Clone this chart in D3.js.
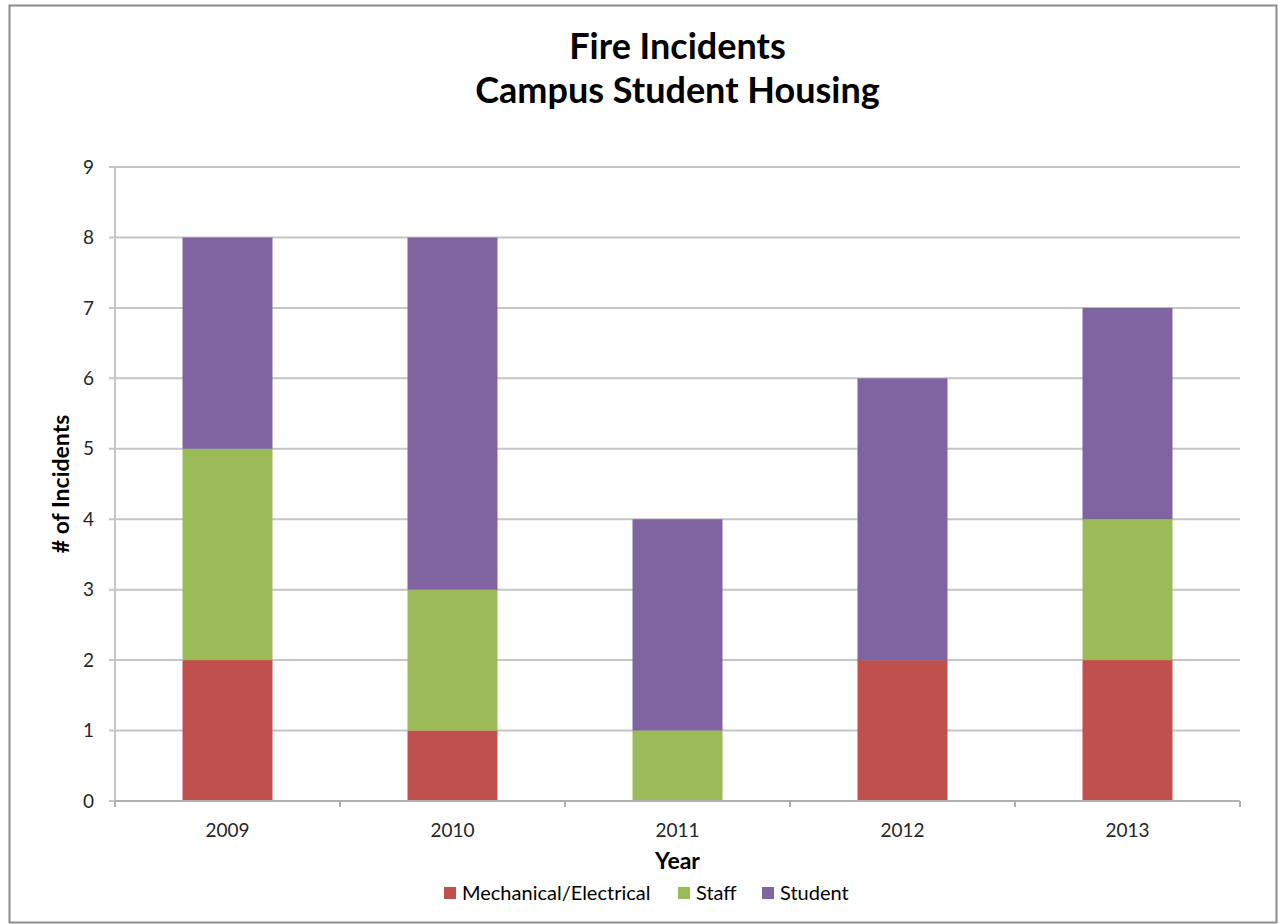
<!DOCTYPE html>
<html><head><meta charset="utf-8">
<script src="https://cdn.jsdelivr.net/npm/d3@7"></script>
<style>body{margin:0;background:#fff;} svg{display:block;}</style>
</head><body>
<svg id="c" width="1278" height="924"></svg>
<script>
const years = ["2009","2010","2011","2012","2013"];
const seriesNames = ["Mechanical/Electrical","Staff","Student"];
const mechanical = [2,1,0,2,2];
const staff = [3,2,1,0,2];
const student = [3,5,3,4,3];
const yTicks = [0,1,2,3,4,5,6,7,8,9];
const colors = ["#C0504D","#9BBB59","#8064A2"];
const titleLines = ["Fire Incidents","Campus Student Housing"];

const font = "Lato, 'Open Sans', sans-serif";
const svg = d3.select("#c");
svg.append("rect").attr("x",9.5).attr("y",5.5).attr("width",1267).attr("height",917)
  .attr("fill","#fff").attr("stroke","#8c8c8c").attr("stroke-width",2);

const L=115, R=1240, T=167, B=801;
const x = d3.scaleBand().domain(years).range([L,R]).paddingInner(0.6).paddingOuter(0.3);
const xb = d3.scaleBand().domain(years).range([L,R]);
const y = d3.scaleLinear().domain([0,9]).range([B,T]);

// gridlines
svg.append("g").selectAll("line").data(yTicks).join("line")
  .attr("x1",L-6).attr("x2",R).attr("y1",d=>y(d)).attr("y2",d=>y(d))
  .attr("stroke","#c6c6c6").attr("stroke-width",2);

// y axis line
svg.append("line").attr("x1",L).attr("x2",L).attr("y1",T).attr("y2",B).attr("stroke","#c6c6c6").attr("stroke-width",2);

// stacked bars
const rows = years.map((yr,i)=>({year:yr, "Mechanical/Electrical":mechanical[i], "Staff":staff[i], "Student":student[i]}));
const stack = d3.stack().keys(seriesNames)(rows);
svg.append("g").selectAll("g").data(stack).join("g").attr("fill",(d,i)=>colors[i])
  .selectAll("rect").data(d=>d).join("rect")
  .attr("x",d=>x(d.data.year)).attr("width",x.bandwidth())
  .attr("y",d=>y(d[1])).attr("height",d=>y(d[0])-y(d[1]));

// x axis
svg.append("line").attr("x1",L).attr("x2",R).attr("y1",B).attr("y2",B).attr("stroke","#b0b0b0").attr("stroke-width",2);
const bounds = years.map(d=>xb(d)).concat([R]);
svg.append("g").selectAll("line").data(bounds).join("line")
  .attr("x1",d=>d).attr("x2",d=>d).attr("y1",B).attr("y2",B+6).attr("stroke","#b0b0b0").attr("stroke-width",2);

// tick labels
svg.append("g").selectAll("text").data(yTicks).join("text")
  .attr("x",L-21).attr("y",d=>y(d)).attr("dy","0.35em").attr("text-anchor","end")
  .attr("font-family",font).attr("font-size",19).attr("fill","#262626").text(d=>d);
svg.append("g").selectAll("text").data(years).join("text")
  .attr("x",d=>xb(d)+xb.bandwidth()/2).attr("y",B+36).attr("text-anchor","middle")
  .attr("font-family",font).attr("font-size",19).attr("fill","#262626").text(d=>d);

// titles
svg.append("g").selectAll("text").data(titleLines).join("text")
  .attr("x",(L+R)/2).attr("y",(d,i)=>59+i*44).attr("text-anchor","middle")
  .attr("font-family",font).attr("font-weight","bold").attr("font-size",36).attr("fill","#000").text(d=>d);

svg.append("text").attr("x",(L+R)/2).attr("y",869).attr("text-anchor","middle")
  .attr("font-family",font).attr("font-weight","bold").attr("font-size",23).attr("fill","#000").text("Year");
svg.append("text").attr("transform",`translate(69,${(T+B)/2}) rotate(-90)`).attr("text-anchor","middle")
  .attr("font-family",font).attr("font-weight","bold").attr("font-size",23).attr("fill","#000").text("# of Incidents");

// legend
const legX = [444,678,762];
const lg = svg.append("g").selectAll("g").data(seriesNames).join("g")
  .attr("transform",(d,i)=>`translate(${legX[i]},893)`);
lg.append("rect").attr("x",0).attr("y",-6).attr("width",12).attr("height",12).attr("fill",(d,i)=>colors[i]);
lg.append("text").attr("x",18).attr("y",0).attr("dy","0.35em").attr("font-family",font)
  .attr("font-size",20).attr("fill","#000").text(d=>d);
</script>
</body></html>
